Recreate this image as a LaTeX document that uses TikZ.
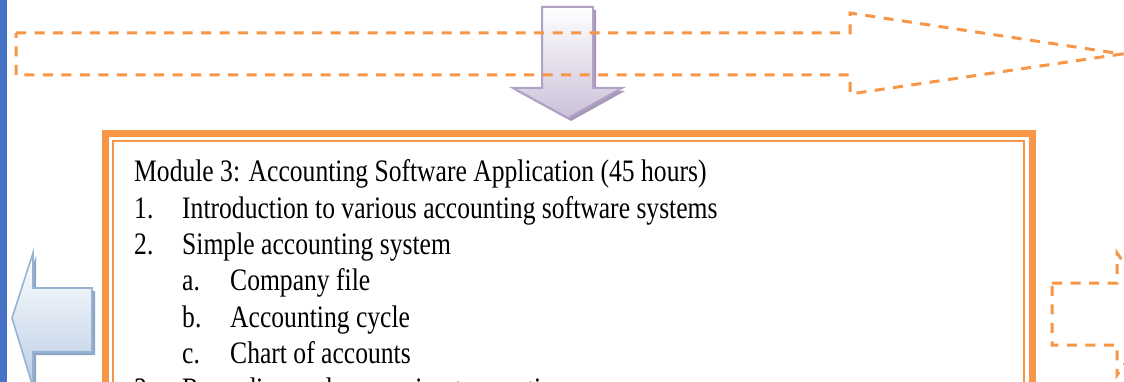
\documentclass[tikz,border=0pt]{standalone}
\usepackage{graphicx}
\usepackage{fontspec}
\setmainfont{Liberation Serif}
\definecolor{accorange}{HTML}{F79646}
\definecolor{barblue}{HTML}{4472C4}
\definecolor{purpleline}{HTML}{B3A2C7}
\definecolor{purplefill}{HTML}{CCC1DA}
\definecolor{purpleshadow}{HTML}{A698B8}
\definecolor{blueline}{HTML}{95B3D7}
\definecolor{bluefill}{HTML}{B9CDE5}
\definecolor{blueshadow}{HTML}{8FA5C2}
\tikzset{
  dashedarrow/.style={draw=accorange, line width=3pt, dash pattern=on 10pt off 8.5pt, line join=miter},
  outerframe/.style={draw=accorange, line width=7pt},
  innerframe/.style={draw=accorange, line width=2pt},
  textline/.style={anchor=base west, inner sep=0pt, font=\fontsize{25.6}{30}\selectfont},
}
\newcommand{\stretchline}[1]{\scalebox{1}[1.22]{#1}}
\begin{document}
\begin{tikzpicture}[x=1pt,y=-1pt]
\clip (0,0) rectangle (1124,382);
\fill[white] (0,0) rectangle (1124,382);
% left blue bar
\fill[barblue] (0,0) rectangle (6.5,382);
% purple down arrow (shadow + body)
\fill[purpleshadow] (545,10) -- (596,10) -- (596,91) -- (625,91) -- (571,121) -- (516,91) -- (545,91) -- cycle;
\shade[top color=white, bottom color=purplefill, draw=purpleline, line width=2pt, line join=miter]
  (542,7) -- (593,7) -- (593,88) -- (622,88) -- (568,118) -- (513,88) -- (542,88) -- cycle;
% big dashed arrow
\draw[dashedarrow] (16,33) -- (850,33) -- (850,13) -- (1122,54) -- (850,94) -- (850,75) -- (16,75) -- cycle;
% frame
\draw[outerframe] (105.5,133.5) rectangle (1032,420);
\draw[innerframe] (113,141) rectangle (1024,420);
% blue left arrow (shadow + body)
\fill[blueshadow] (15,321) -- (36,256) -- (36,291) -- (95,291) -- (95,355) -- (36,355) -- (36,390) -- cycle;
\shade[top color=white, bottom color=bluefill, draw=blueline, line width=1.6pt, line join=miter]
  (12,318) -- (33,253) -- (33,288) -- (92,288) -- (92,352) -- (33,352) -- (33,387) -- cycle;
% right small dashed arrow
\draw[dashedarrow] (1052,283) -- (1117,283) -- (1117,253) -- (1160,314) -- (1117,375) -- (1117,345) -- (1052,345) -- cycle;
% text
\node[textline] (l0) at (134,182) {\stretchline{Module 3: Accounting Software Application (45 hours)}};
\node[textline] (l1) at (134,218.3) {\stretchline{\makebox[48pt][l]{1.}Introduction to various accounting software systems}};
\node[textline] (l2) at (134,254.6) {\stretchline{\makebox[48pt][l]{2.}Simple accounting system}};
\node[textline] (l3) at (182,290.9) {\stretchline{\makebox[48pt][l]{a.}Company file}};
\node[textline] (l4) at (182,327.2) {\stretchline{\makebox[48pt][l]{b.}Accounting cycle}};
\node[textline] (l5) at (182,363.5) {\stretchline{\makebox[48pt][l]{c.}Chart of accounts}};
\node[textline] (l6) at (134,399.8) {\stretchline{\makebox[48pt][l]{3.}Recording and processing transactions}};
\end{tikzpicture}
\end{document}
